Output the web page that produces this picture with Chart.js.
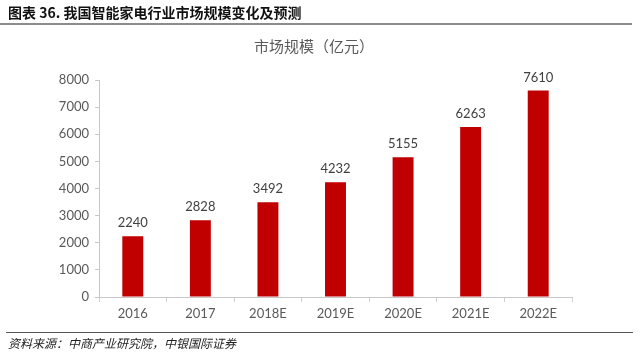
<!DOCTYPE html>
<html>
<head>
<meta charset="utf-8">
<script src="https://cdn.jsdelivr.net/npm/chart.js@4"></script>
<style>
  html, body { margin:0; padding:0; background:#fff; width:640px; height:357px; overflow:hidden; }
  #wrap { position:absolute; left:0; top:0; width:640px; height:357px; }
  #hdr { position:absolute; left:8px; top:3px; font-family:"Noto Sans CJK SC", sans-serif; font-weight:bold; font-size:14px; color:#111; white-space:nowrap; line-height:18px; }
  #hline { position:absolute; left:0; top:23px; width:632px; height:2px; background:#8c8c8c; }
  #ctitle { position:absolute; left:0; width:628px; top:36px; text-align:center; font-family:"Noto Sans CJK SC", sans-serif; font-size:15px; color:#595959; line-height:20px; }
  #fline { position:absolute; left:6px; top:332px; width:627px; height:1px; background:#555; }
  #src { position:absolute; left:8px; top:335px; font-family:"Noto Sans CJK SC", sans-serif; font-style:italic; font-size:12px; color:#222; white-space:nowrap; line-height:16px; }
</style>
</head>
<body>
<div id="wrap"><canvas id="c" width="640" height="357"></canvas></div>
<div id="hdr">图表 36. 我国智能家电行业市场规模变化及预测</div>
<div id="hline"></div>
<div id="ctitle">市场规模（亿元）</div>
<div id="fline"></div>
<div id="src">资料来源：中商产业研究院，中银国际证券</div>
<script>
const categories = ["2016", "2017", "2018E", "2019E", "2020E", "2021E", "2022E"];
const marketSize = [2240, 2828, 3492, 4232, 5155, 6263, 7610];
const yTicks = [0, 1000, 2000, 3000, 4000, 5000, 6000, 7000, 8000];

const labelPlugin = {
  id: 'barLabels',
  afterDatasetsDraw(chart) {
    const ctx = chart.ctx;
    const meta = chart.getDatasetMeta(0);
    ctx.save();
    ctx.font = '13px Lato, "Open Sans", sans-serif';
    ctx.fillStyle = '#404040';
    ctx.textAlign = 'center';
    ctx.textBaseline = 'middle';
    meta.data.forEach((bar, i) => {
      ctx.fillText(String(marketSize[i]), bar.x, bar.y - 13);
    });
    ctx.restore();
  }
};

new Chart(document.getElementById('c'), {
  type: 'bar',
  data: {
    labels: categories,
    datasets: [{
      data: marketSize,
      backgroundColor: '#C00000',
      borderWidth: 0,
      barPercentage: 0.62,
      categoryPercentage: 0.5
    }]
  },
  options: {
    responsive: false,
    animation: false,
    devicePixelRatio: 1,
    layout: { padding: { left: 0, right: 68, top: 80, bottom: 30 } },
    plugins: { legend: { display: false }, tooltip: { enabled: false }, title: { display: false } },
    scales: {
      x: {
        offset: true,
        grid: { display: true, drawOnChartArea: false, offset: true, tickLength: 5, color: '#d0d0d0' },
        border: { display: true, color: '#c8c8c8' },
        ticks: { color: '#595959', font: { family: 'Lato, "Open Sans", sans-serif', size: 13 }, padding: 4, maxRotation: 0 },
        afterFit(s) { s.height = 30; }
      },
      y: {
        min: 0, max: 8000,
        afterBuildTicks(s) { s.ticks = yTicks.map(v => ({ value: v })); },
        grid: { display: true, drawOnChartArea: false, tickLength: 4, color: '#c8c8c8' },
        border: { display: true, color: '#c8c8c8' },
        ticks: { color: '#595959', font: { family: 'Lato, "Open Sans", sans-serif', size: 13 }, padding: 6, callback: (v) => String(v) },
        afterFit(s) { s.width = 99; }
      }
    }
  },
  plugins: [labelPlugin]
});
</script>
</body>
</html>
